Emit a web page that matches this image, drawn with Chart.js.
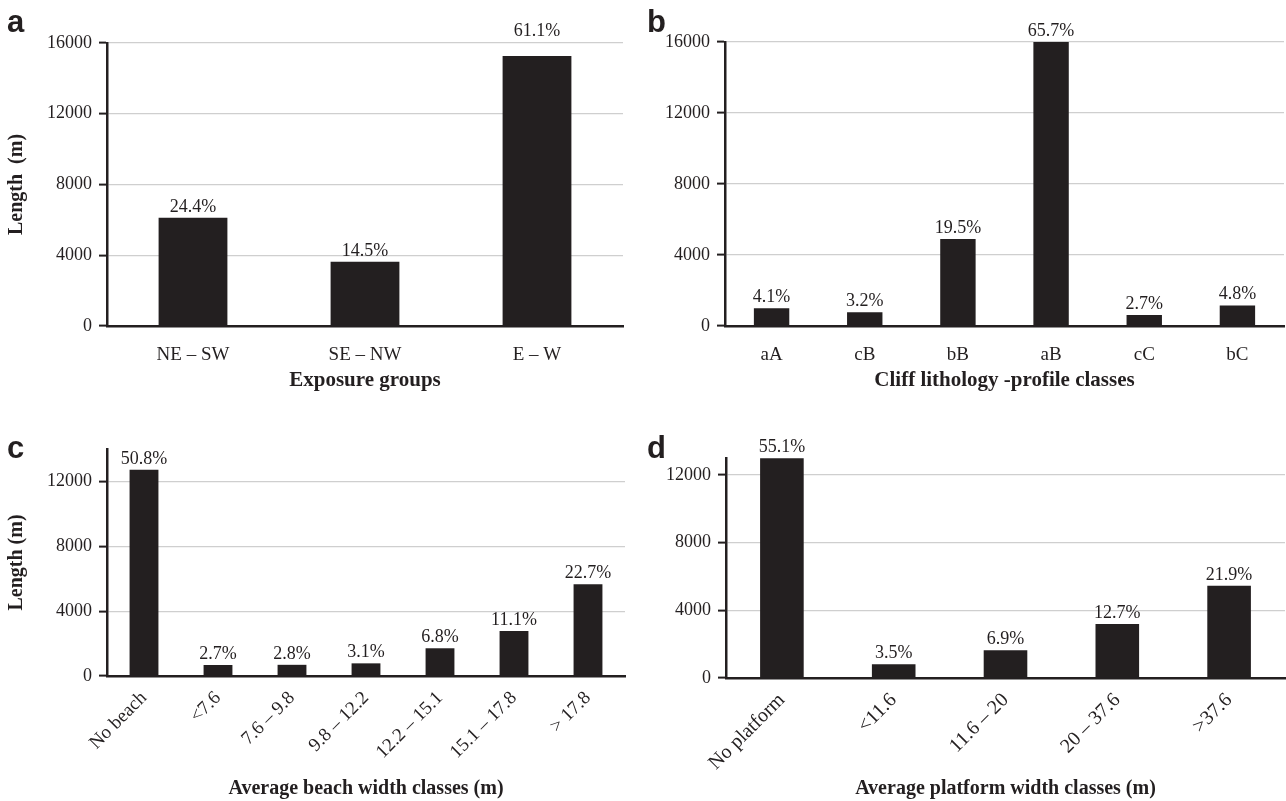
<!DOCTYPE html>
<html>
<head>
<meta charset="utf-8">
<script src="https://cdn.jsdelivr.net/npm/chart.js@4.4.1/dist/chart.umd.min.js"></script>
<style>
  body { margin: 0; background: #fff; width: 1286px; height: 801px; position: relative; overflow: hidden; }
  canvas { position: absolute; }
</style>
</head>
<body>
<canvas id="chartA" width="643" height="400" style="left:0;top:0"></canvas>
<canvas id="chartB" width="643" height="400" style="left:643px;top:0"></canvas>
<canvas id="chartC" width="643" height="401" style="left:0;top:400px"></canvas>
<canvas id="chartD" width="643" height="401" style="left:643px;top:400px"></canvas>
<script>
// a - exposure groups
var exposureLabels = ["NE \u2013 SW", "SE \u2013 NW", "E \u2013 W"];
var exposureLength = [6120, 3630, 15260];
var exposurePct = ["24.4%", "14.5%", "61.1%"];

// b - cliff lithology / profile classes
var lithoLabels = ["aA", "cB", "bB", "aB", "cC", "bC"];
var lithoLength = [1000, 770, 4900, 16000, 620, 1160];
var lithoPct = ["4.1%", "3.2%", "19.5%", "65.7%", "2.7%", "4.8%"];

// c - beach width classes
var beachLabels = ["No beach", "<7.6", "7.6 \u2013 9.8", "9.8 \u2013 12.2", "12.2 \u2013 15.1", "15.1 \u2013 17.8", "> 17.8"];
var beachLength = [12720, 680, 690, 780, 1710, 2780, 5660];
var beachPct = ["50.8%", "2.7%", "2.8%", "3.1%", "6.8%", "11.1%", "22.7%"];

// d - platform width classes
var platformLabels = ["No platform", "<11.6", "11.6 \u2013 20", "20 \u2013 37.6", ">37.6"];
var platformLength = [12990, 810, 1640, 3190, 5450];
var platformPct = ["55.1%", "3.5%", "6.9%", "12.7%", "21.9%"];

// y tick values shared by all panels
var lengthTicks = [0, 4000, 8000, 12000, 16000];

var ink = '#231f20';
var serif = '"Liberation Serif", "Times New Roman", serif';

// percentage above each bar
var pctLabels = {
  id: 'pctLabels',
  afterDatasetsDraw: function(chart, args, opts) {
    var ctx = chart.ctx;
    var ds = chart.data.datasets[0];
    chart.getDatasetMeta(0).data.forEach(function(bar, i) {
      var lift = (opts.raise && opts.raise[i]) || 0;
      ctx.save();
      ctx.font = '18px ' + serif;
      ctx.fillStyle = ink;
      ctx.textAlign = 'center';
      ctx.textBaseline = 'alphabetic';
      ctx.fillText(ds.pct[i], bar.x, bar.y - 6 - lift);
      ctx.restore();
    });
  }
};

// panel letter (a, b, c, d)
var panelLetter = {
  id: 'panelLetter',
  afterDraw: function(chart, args, opts) {
    var ctx = chart.ctx;
    ctx.save();
    ctx.font = 'bold 31px "Liberation Sans", Arial, sans-serif';
    ctx.fillStyle = ink;
    ctx.textBaseline = 'alphabetic';
    ctx.fillText(opts.text, opts.x, opts.y);
    ctx.restore();
  }
};

function makePanel(id, labels, values, pcts, cfg) {
  return new Chart(document.getElementById(id), {
    type: 'bar',
    data: {
      labels: labels,
      datasets: [{
        data: values,
        pct: pcts,
        backgroundColor: ink,
        barPercentage: cfg.bar,
        categoryPercentage: 1
      }]
    },
    options: {
      responsive: false,
      animation: false,
      layout: { padding: { top: cfg.top, right: cfg.right, left: 0, bottom: 0 } },
      plugins: {
        legend: { display: false },
        tooltip: { enabled: false },
        pctLabels: { raise: cfg.raise || [] },
        panelLetter: cfg.letter
      },
      scales: {
        x: {
          grid: { display: false },
          border: { color: ink, width: 2.5 },
          ticks: {
            color: ink,
            font: { family: serif, size: cfg.xfont, lineHeight: cfg.xlh || 1.2 },
            padding: cfg.xpad,
            autoSkip: false,
            minRotation: cfg.rot,
            maxRotation: cfg.rot
          },
          title: {
            display: true,
            text: cfg.xTitle,
            color: ink,
            font: { family: serif, size: cfg.tfont, weight: 'bold' },
            padding: { top: 0, bottom: cfg.xtb }
          },
          afterFit: function(s) { s.height = cfg.xh; }
        },
        y: {
          min: 0,
          max: cfg.max,
          ticks: {
            color: ink,
            font: { family: serif, size: 18 },
            padding: 7,
            callback: function(v) { return String(v); }
          },
          afterBuildTicks: function(s) {
            s.ticks = lengthTicks.filter(function(v) { return v <= cfg.max; })
              .map(function(v) { return { value: v }; });
          },
          grid: {
            color: function(c) { return c.tick && c.tick.value === 0 ? 'rgba(0,0,0,0)' : '#cfcfcf'; },
            lineWidth: 1.2,
            tickColor: ink,
            tickLength: 8,
            tickWidth: 2
          },
          border: { color: ink, width: 2.5 },
          title: {
            display: !!cfg.yTitle,
            text: cfg.yTitle || '',
            color: ink,
            font: { family: serif, size: 20, weight: 'bold' },
            padding: { top: 5, bottom: 0 }
          },
          afterFit: function(s) { s.width = cfg.yw; }
        }
      }
    },
    plugins: [pctLabels, panelLetter]
  });
}

makePanel('chartA', exposureLabels, exposureLength, exposurePct, {
  bar: 0.4, max: 16000, top: 43, right: 20, yw: 107, xh: 74, xpad: 10, xfont: 19, rot: 0, xtb: 7, tfont: 21,
  xTitle: 'Exposure groups', yTitle: 'Length  (m)', raise: [0, 0, 14],
  letter: { text: 'a', x: 7, y: 32 }
});

makePanel('chartB', lithoLabels, lithoLength, lithoPct, {
  bar: 0.38, max: 16000, top: 42, right: 2, yw: 82, xh: 74, xpad: 10, xfont: 19, rot: 0, xtb: 7, tfont: 21,
  xTitle: 'Cliff lithology -profile classes',
  letter: { text: 'b', x: 4, y: 32 }
});

makePanel('chartC', beachLabels, beachLength, beachPct, {
  bar: 0.39, max: 14000, top: 49, right: 18, yw: 107, xh: 125, xpad: 3, xfont: 19, rot: 45, xtb: 0, tfont: 20,
  xTitle: 'Average beach width classes (m)', yTitle: 'Length (m)',
  letter: { text: 'c', x: 7, y: 58 }
});

makePanel('chartD', platformLabels, platformLength, platformPct, {
  bar: 0.39, max: 13000, top: 58, right: 1, yw: 83, xh: 123, xpad: -1, xfont: 20, xlh: 1.7, rot: 45, xtb: 0, tfont: 20,
  xTitle: 'Average platform width classes (m)',
  letter: { text: 'd', x: 4, y: 58 }
});
</script>
</body>
</html>
